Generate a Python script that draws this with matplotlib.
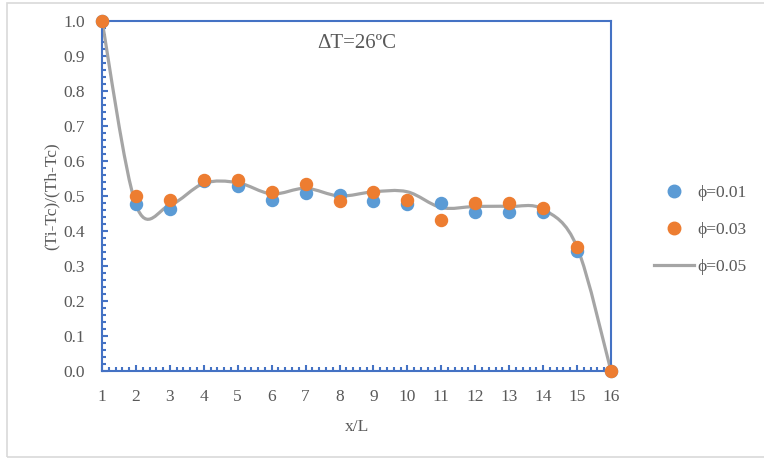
import numpy as np
import matplotlib.pyplot as plt
from matplotlib.path import Path
from matplotlib.patches import PathPatch, Rectangle
from matplotlib.lines import Line2D
from matplotlib.ticker import MultipleLocator

x = [1, 2, 3, 4, 5, 6, 7, 8, 9, 10, 11, 12, 13, 14, 15, 16]
phi_001 = [1.0, 0.477, 0.462, 0.543, 0.530, 0.488, 0.510, 0.503, 0.487, 0.476,
           0.479, 0.455, 0.455, 0.455, 0.344, 0.0]
phi_003 = [1.0, 0.501, 0.489, 0.546, 0.546, 0.512, 0.533, 0.487, 0.512, 0.489,
           0.431, 0.479, 0.479, 0.465, 0.355, 0.0]
phi_005 = [1.0, 0.475, 0.474, 0.536, 0.538, 0.506, 0.522, 0.500, 0.512, 0.512,
           0.467, 0.470, 0.470, 0.462, 0.354, 0.0]

plt.rcParams['font.family'] = ['Liberation Serif', 'DejaVu Serif']
grey = '#595959'
blue_axis = '#4472C4'

fig = plt.figure(figsize=(7.64, 4.59), dpi=100)
fig.patches.append(Rectangle((6.5 / 764, 0.004), 1.2, 1 - 0.004 - 2.5 / 459,
                             transform=fig.transFigure, fill=False,
                             edgecolor='#d9d9d9', linewidth=1.2))
ax = fig.add_axes([102 / 764, 1 - 371 / 459, 509 / 764, 350 / 459])


def smooth_path(xs, ys):
    # Excel-like smoothed line: cubic bezier through each point
    pts = np.column_stack([xs, ys]).astype(float)
    verts = [pts[0]]
    codes = [Path.MOVETO]
    n = len(pts)
    for i in range(n - 1):
        p0 = pts[max(i - 1, 0)]
        p1 = pts[i]
        p2 = pts[i + 1]
        p3 = pts[min(i + 2, n - 1)]
        c1 = p1 + (p2 - p0) / 6
        c2 = p2 - (p3 - p1) / 6
        verts += [c1, c2, p2]
        codes += [Path.CURVE4] * 3
    return Path(verts, codes)


ax.add_patch(PathPatch(smooth_path(x, phi_005), fill=False,
                       edgecolor='#a5a5a5', linewidth=2.3, zorder=2))
ax.scatter(x, phi_001, s=75, color='#5b9bd5', zorder=3, clip_on=False)
ax.scatter(x, phi_003, s=75, color='#ed7d31', zorder=4, clip_on=False)

ax.set_xlim(1, 16)
ax.set_ylim(0, 1.0)
ax.xaxis.set_major_locator(MultipleLocator(1))
ax.xaxis.set_minor_locator(MultipleLocator(0.2))
ax.yaxis.set_major_locator(MultipleLocator(0.1))
ax.yaxis.set_minor_locator(MultipleLocator(0.02))
ax.yaxis.set_major_formatter(plt.FormatStrFormatter('%.1f'))
for s in ax.spines.values():
    s.set_color(blue_axis)
    s.set_linewidth(1.5)
ax.tick_params(which='both', direction='in', color=blue_axis, labelcolor=grey,
               labelsize=12.5, width=1.5)
ax.tick_params(which='major', length=4.5)
ax.tick_params(which='minor', length=3)
ax.tick_params(axis='x', which='major', pad=13)
ax.tick_params(axis='y', which='major', pad=12)
ax.tick_params(axis='x', which='both', top=False)
ax.tick_params(axis='y', which='both', right=False)

ax.set_xlabel('x/L', color=grey, fontsize=12.5, labelpad=10)
ax.set_ylabel('(Ti-Tc)/(Th-Tc)', color=grey, fontsize=12.5, labelpad=3)
ax.text(0.5, 0.935, '\u0394T=26\u00baC', transform=ax.transAxes, color=grey,
        fontsize=15, ha='center', va='center')

handles = [
    Line2D([], [], marker='o', linestyle='none', markersize=9, color='#5b9bd5'),
    Line2D([], [], marker='o', linestyle='none', markersize=9, color='#ed7d31'),
    Line2D([], [], color='#a5a5a5', linewidth=2.3),
]
leg = fig.legend(handles, ['\u03d5=0.01', '\u03d5=0.03', '\u03d5=0.05'],
                 loc='center left', bbox_to_anchor=(638 / 764, 1 - 230 / 459),
                 frameon=False, labelspacing=1.2,
                 handlelength=2.3, handletextpad=0.2,
                 prop={'family': ['Liberation Serif', 'DejaVu Serif'], 'size': 12.5})
for t in leg.get_texts():
    t.set_color(grey)

fig.savefig('out.png', dpi=100)
